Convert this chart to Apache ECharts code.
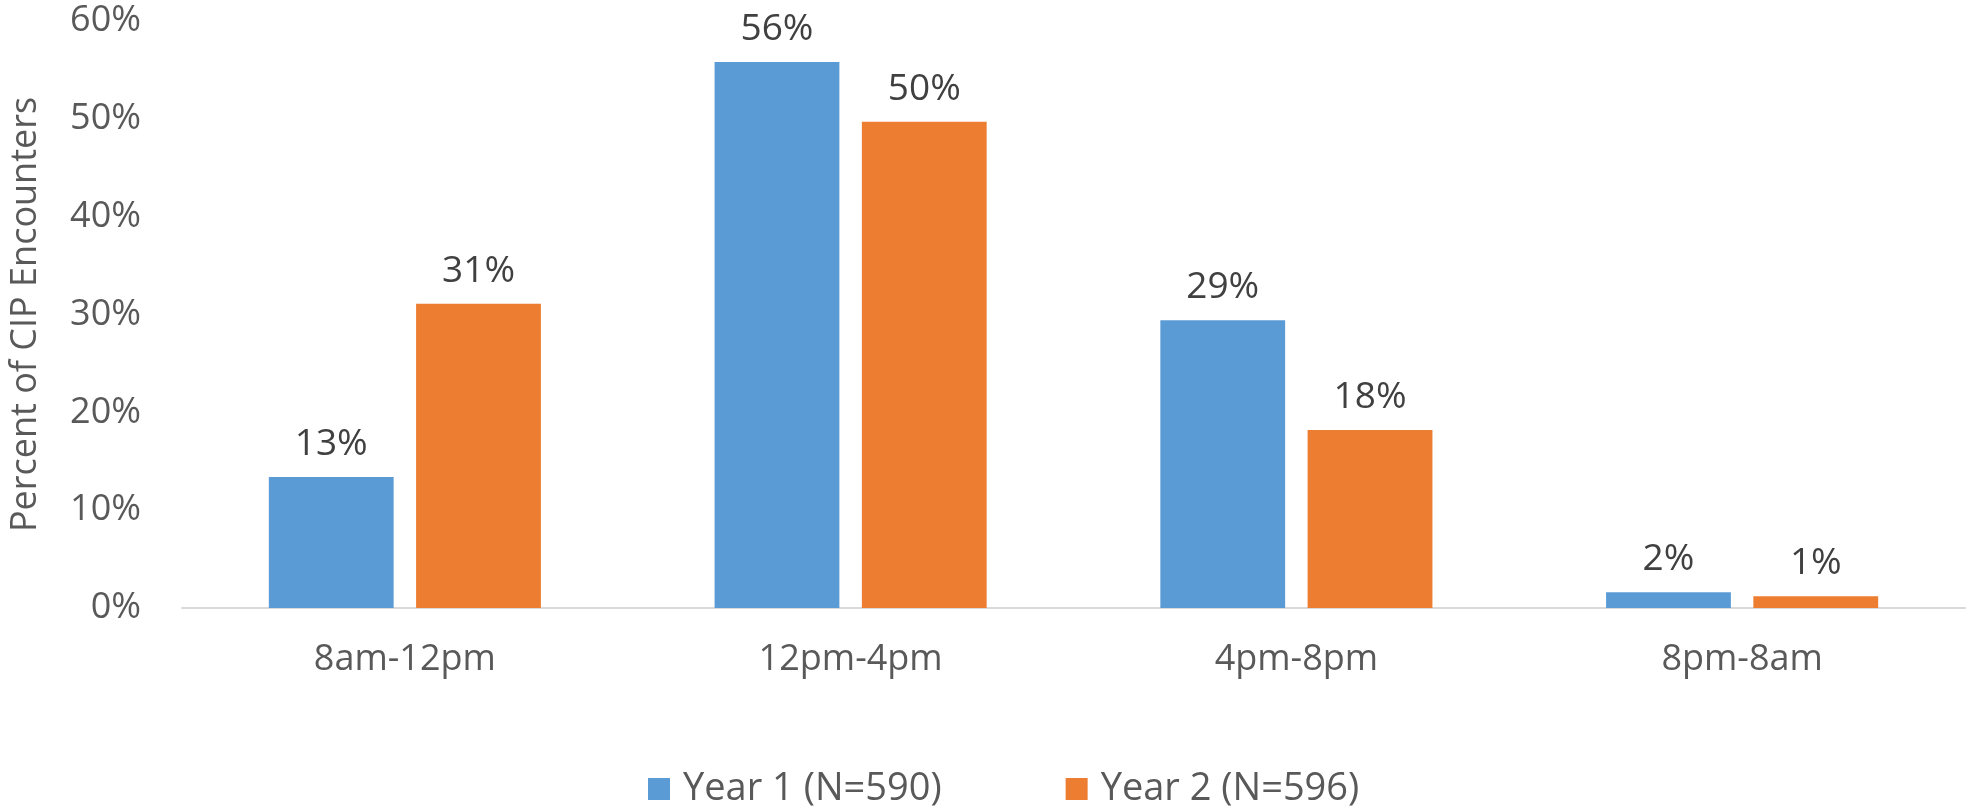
<!DOCTYPE html>
<html>
<head>
<meta charset="utf-8">
<script src="https://cdn.jsdelivr.net/npm/echarts@6/dist/echarts.min.js"></script>
<style>
    html, body { margin: 0; padding: 0; background: #fff; }
    #chart { width: 1972px; height: 807px; }
</style>
</head>
<body>
<div id="chart"></div>
<script>
// time windows and share of CIP encounters (%)
const timeSlots = ['8am-12pm', '12pm-4pm', '4pm-8pm', '8pm-8am'];
const year1Name = 'Year 1 (N=590)';
const year2Name = 'Year 2 (N=596)';
const year1Values = [13.4, 55.8, 29.4, 1.6];
const year2Values = [31.1, 49.7, 18.2, 1.2];

const FONT = '"Open Sans", "Noto Sans", sans-serif';

const chart = echarts.init(document.getElementById('chart'));

function barSeries(name, values, color) {
    return {
        name: name,
        type: 'bar',
        data: values,
        barWidth: '28%',
        barGap: '18%',
        itemStyle: { color: color },
        label: {
            show: true,
            position: 'top',
            distance: 14,
            formatter: (p) => Math.round(p.value) + '%',
            fontFamily: FONT,
            fontSize: 37,
            color: '#404040'
        }
    };
}

chart.setOption({
    animation: false,
    textStyle: { fontFamily: FONT },
    grid: { left: 175, right: 7, top: 21, bottom: 199, containLabel: false },
    legend: {
        bottom: -6,
        left: 643,
        itemWidth: 22,
        itemHeight: 22,
        itemGap: 124,
        icon: 'rect',
        textStyle: { fontFamily: FONT, fontSize: 38, color: '#595959', padding: [0, 0, 0, 8] },
        data: [year1Name, year2Name]
    },
    xAxis: {
        type: 'category',
        data: timeSlots,
        axisTick: { show: false },
        axisLine: { lineStyle: { color: '#D9D9D9', width: 2 } },
        axisLabel: { margin: 34, fontFamily: FONT, fontSize: 36, color: '#595959' }
    },
    yAxis: {
        type: 'value',
        min: 0, max: 60, interval: 10,
        name: 'Percent of CIP Encounters',
        nameLocation: 'middle',
        nameGap: 138,
        nameTextStyle: { fontFamily: FONT, fontSize: 36, color: '#595959' },
        splitLine: { show: false },
        axisLine: { show: false },
        axisTick: { show: false },
        axisLabel: {
            margin: 41,
            formatter: '{value}%',
            fontFamily: FONT, fontSize: 36, color: '#595959'
        }
    },
    series: [
        barSeries(year1Name, year1Values, '#5B9BD5'),
        barSeries(year2Name, year2Values, '#ED7D31')
    ]
});
</script>
</body>
</html>
